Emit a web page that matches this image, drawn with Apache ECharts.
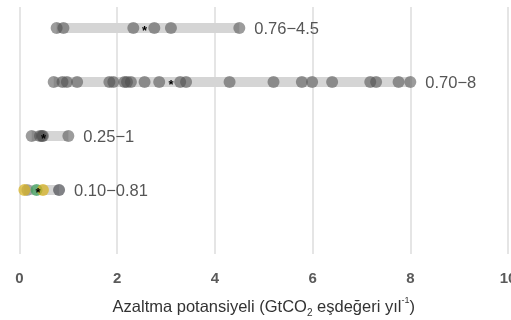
<!DOCTYPE html>
<html>
<head>
<meta charset="utf-8">
<script src="https://cdn.jsdelivr.net/npm/echarts@6/dist/echarts.min.js"></script>
<style>html,body{margin:0;padding:0;background:#fff;}#c{width:511px;height:320px;}</style>
</head>
<body>
<div id="c"></div>
<script>
// Data
const rowIndex = [1, 2, 3, 4];
const rangeMin = [0.76, 0.70, 0.25, 0.10];
const rangeMax = [4.5, 8, 1, 0.81];
const rangeLabels = ['0.76\u22124.5', '0.70\u22128', '0.25\u22121', '0.10\u22120.81'];
const meanValues = [2.56, 3.1, 0.49, 0.38];
const row1Values = [0.76, 0.9, 2.33, 2.76, 3.1, 4.5];
const row2Values = [0.70, 0.88, 0.97, 1.18, 1.84, 1.92, 2.15, 2.2, 2.28, 2.56, 2.86, 3.29, 3.41, 4.3, 5.2, 5.78, 5.99, 6.4, 7.18, 7.3, 7.76, 8.0];
const row3Values = [0.25, 0.42, 0.46, 0.48, 1.0];
const row4GrayValues = [0.16];
const row4YellowValues = [0.10, 0.48];
const row4GreenValues = [0.35];
const row4DarkValues = [0.81];
const xTicks = [0, 2, 4, 6, 8, 10];

const FONT = 'Liberation Sans, Arial, sans-serif';
const chart = echarts.init(document.getElementById('c'));
const grayDots = [];
[row1Values, row2Values, row3Values].forEach((arr, i) => arr.forEach(v => grayDots.push([v, rowIndex[i]])));
const bands = rowIndex.map((r, i) => [rangeMin[i], rangeMax[i], r, rangeLabels[i]]);
const stars = rowIndex.map((r, i) => [meanValues[i], r]);

chart.setOption({
  animation: false,
  grid: {left: 19.5, right: 3, top: 7, height: 247, containLabel: false, outerBoundsMode: 'none'},
  xAxis: {
    type: 'value', min: xTicks[0], max: xTicks[xTicks.length - 1], interval: 2,
    axisLine: {show: false}, axisTick: {show: false},
    splitLine: {lineStyle: {color: '#dcdcdc', width: 1.5}},
    axisLabel: {color: '#5a5a5a', fontWeight: 'bold', fontSize: 15, margin: 17, fontFamily: FONT, hideOverlap: false, showMaxLabel: true},
    name: '{n|Azaltma potansiyeli (GtCO}{sub|2}{n| eşdeğeri yıl}{sup|-1}{n|)}',
    nameLocation: 'middle', nameGap: 42,
    nameTextStyle: {
      rich: {
        n: {fontSize: 16.5, color: '#333', fontFamily: FONT, lineHeight: 22},
        sub: {fontSize: 10, color: '#333', fontFamily: FONT, lineHeight: 12, verticalAlign: 'bottom'},
        sup: {fontSize: 9, color: '#333', fontFamily: FONT, lineHeight: 14, verticalAlign: 'top'}
      }
    }
  },
  yAxis: {type: 'value', inverse: true, min: 0.611, max: 5.185, show: false},
  series: [
    {
      type: 'custom', data: bands, z: 1,
      renderItem: function (params, api) {
        const p1 = api.coord([api.value(0), api.value(2)]);
        const p2 = api.coord([api.value(1), api.value(2)]);
        const lbl = bands[params.dataIndex][3];
        return {type: 'group', children: [
          {type: 'rect', shape: {x: p1[0], y: p1[1] - 5, width: p2[0] - p1[0], height: 10}, style: {fill: '#d5d5d5'}},
          {type: 'text', x: p2[0] + 15, y: p1[1] + 1, style: {text: lbl, fill: '#555', fontSize: 16.5, fontFamily: FONT, textVerticalAlign: 'middle', textAlign: 'left'}}
        ]};
      }
    },
    {type: 'scatter', data: grayDots, symbolSize: 12, z: 2, itemStyle: {color: 'rgba(78,78,78,0.7)'}},
    {type: 'scatter', data: row4GrayValues.map(v => [v, rowIndex[3]]), symbolSize: 12, z: 2, itemStyle: {color: 'rgba(120,120,120,0.7)'}},
    {type: 'scatter', data: row4DarkValues.map(v => [v, rowIndex[3]]), symbolSize: 12, z: 2, itemStyle: {color: 'rgba(70,72,78,0.85)'}},
    {type: 'scatter', data: row4GreenValues.map(v => [v, rowIndex[3]]), symbolSize: 12, z: 3, itemStyle: {color: 'rgba(60,160,90,0.9)'}},
    {type: 'scatter', data: row4YellowValues.map(v => [v, rowIndex[3]]), symbolSize: 12, z: 3, itemStyle: {color: 'rgba(215,178,30,0.9)'}},
    {
      type: 'custom', data: stars, z: 5,
      renderItem: function (params, api) {
        const p = api.coord([api.value(0), api.value(1)]);
        return {type: 'text', x: p[0], y: p[1] + 3, style: {text: '*', fill: '#000', fontSize: 13, fontWeight: 'bold', fontFamily: FONT, textAlign: 'center', textVerticalAlign: 'middle'}};
      }
    }
  ]
});
</script>
</body>
</html>
